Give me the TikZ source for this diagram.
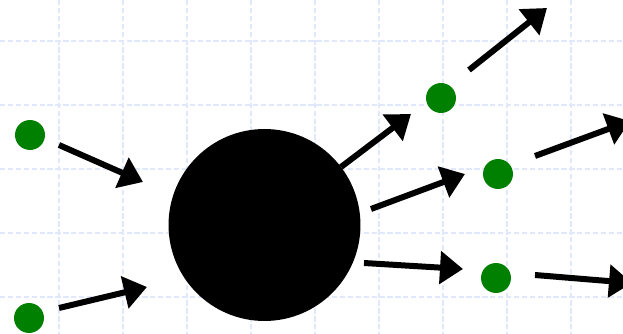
\documentclass[tikz,border=0pt]{standalone}
\usetikzlibrary{arrows.meta}
\definecolor{gridc}{RGB}{226,232,251}
\definecolor{dotgreen}{RGB}{0,128,0}
\tikzset{
  gridline/.style={draw=gridc, line width=0.8pt, dash pattern=on 3pt off 1.5pt},
  bigball/.style={circle, fill=black, inner sep=0pt, minimum size=3.84cm},
  dot/.style={circle, fill=dotgreen, inner sep=0pt, minimum size=0.6cm},
  bigarrow/.style={line width=0.12cm, -{Triangle[length=0.46cm,width=0.64cm]}}
}
\begin{document}
\begin{tikzpicture}[x=0.02cm,y=-0.02cm]
\useasboundingbox (0,0) rectangle (623,334);
\fill[white] (0,0) rectangle (623,334);
\foreach \x in {59,123,187,251,315,379,443,507,571} \draw[gridline] (\x,0) -- (\x,334);
\foreach \y in {41,105,169,233,297} \draw[gridline] (0,\y) -- (623,\y);
\node[bigball] (ball) at (264.5,225) {};
\node[dot] (d1) at (30,135) {};
\node[dot] (d2) at (29,318) {};
\node[dot] (d3) at (441,98) {};
\node[dot] (d4) at (498,174) {};
\node[dot] (d5) at (496,278) {};
\coordinate (a1s) at (59,145); \coordinate (a1e) at (143,182);
\coordinate (a2s) at (59,308); \coordinate (a2e) at (147,287);
\coordinate (a3s) at (341,167); \coordinate (a3e) at (411,114);
\coordinate (a4s) at (469,70); \coordinate (a4e) at (547,8);
\coordinate (a5s) at (371,209); \coordinate (a5e) at (465,174);
\coordinate (a6s) at (364,263); \coordinate (a6e) at (463,269);
\coordinate (a7s) at (535,156); \coordinate (a7e) at (630,121);
\coordinate (a8s) at (535,275); \coordinate (a8e) at (632,283);
\draw[bigarrow] (a1s) -- (a1e);
\draw[bigarrow] (a2s) -- (a2e);
\draw[bigarrow] (a3s) -- (a3e);
\draw[bigarrow] (a4s) -- (a4e);
\draw[bigarrow] (a5s) -- (a5e);
\draw[bigarrow] (a6s) -- (a6e);
\draw[bigarrow] (a7s) -- (a7e);
\draw[bigarrow] (a8s) -- (a8e);
\end{tikzpicture}
\end{document}
